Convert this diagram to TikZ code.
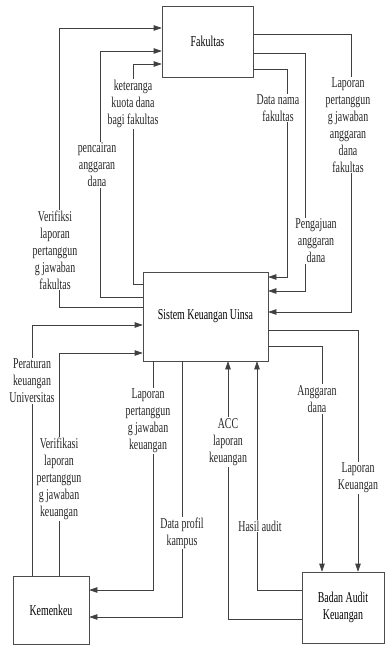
\documentclass[tikz,border=0pt]{standalone}
\usepackage{fontspec}
\setmainfont{Liberation Serif}[FakeStretch=0.66]
\usetikzlibrary{arrows.meta}

\tikzset{
  entitas/.style={draw=black!70, line width=0.6pt, align=center, inner sep=2pt},
  flow/.style={draw=black!75, line width=0.6pt, -{Triangle[length=8pt,width=5.5pt]}},
  keterangan/.style={fill=white, align=center, inner sep=1pt, text=black!85}
}

\begin{document}
\begin{tikzpicture}[x=1pt, y=-1pt, font=\fontsize{15}{17}\selectfont]
	\useasboundingbox (0,0) rectangle (385,645);

	% entitas
	\node[entitas, minimum width=91pt, minimum height=71pt] (fak) at (207.5,41.5) {Fakultas};
	\node[entitas, minimum width=125pt, minimum height=89pt] (sis) at (205.5,316.5) {Sistem Keuangan Uinsa};
	\node[entitas, minimum width=76pt, minimum height=68pt] (kem) at (51,610) {Kemenkeu};
	\node[entitas, minimum width=82pt, minimum height=71pt] (bad) at (343,607.5) {Badan Audit\\Keuangan};

	% sistem ke fakultas
	\draw[flow] (sis.west |- 0,307) -| (59,28) -- (fak.west |- 0,28);
	\draw[flow] (sis.west |- 0,297) -| (100,51) -- (fak.west |- 0,51);
	\draw[flow] (sis.west |- 0,284) -| (133,64) -- (fak.west |- 0,64);

	% fakultas ke sistem
	\draw[flow] (fak.east |- 0,34) -| (351,312) -- (sis.east |- 0,312);
	\draw[flow] (fak.east |- 0,53) -| (305,291) -- (sis.east |- 0,291);
	\draw[flow] (fak.east |- 0,69) -| (287,277) -- (sis.east |- 0,277);

	% kemenkeu
	\draw[flow] (kem.north -| 32,0) |- (sis.west |- 0,325);
	\draw[flow] (kem.north -| 59,0) |- (sis.west |- 0,353);
	\draw[flow] (sis.south -| 153,0) |- (kem.east |- 0,590);
	\draw[flow] (sis.south -| 182,0) |- (kem.east |- 0,617);

	% badan audit
	\draw[flow] (bad.west |- 0,619) -| (sis.south -| 228,0);
	\draw[flow] (bad.west |- 0,590) -| (sis.south -| 257,0);
	\draw[flow] (sis.east |- 0,346) -| (bad.north -| 322,0);
	\draw[flow] (sis.east |- 0,330) -| (bad.north -| 358,0);

	% keterangan aliran
	\node[keterangan] (l1) at (55,250) {Verifiksi\\laporan\\pertanggun\\g jawaban\\fakultas};
	\node[keterangan] (l2) at (97,165) {pencairan\\anggaran\\dana};
	\node[keterangan] (l3) at (133,104) {keteranga\\kuota dana\\bagi fakultas};
	\node[keterangan] (l4) at (348,125) {Laporan\\pertanggun\\g jawaban\\anggaran\\dana\\fakultas};
	\node[keterangan] (l5) at (316,241) {Pengajuan\\anggaran\\dana};
	\node[keterangan] (l6) at (278,108) {Data nama\\fakultas};
	\node[keterangan] (l7) at (32,381) {Peraturan\\keuangan\\Universitas};
	\node[keterangan] (l8) at (59,479) {Verifikasi\\laporan\\pertanggun\\g jawaban\\keuangan};
	\node[keterangan] (l9) at (148,421) {Laporan\\pertanggun\\g jawaban\\keuangan};
	\node[keterangan] (l10) at (182,533) {Data profil\\kampus};
	\node[keterangan] (l11) at (228,442) {ACC\\laporan\\keuangan};
	\node[keterangan] (l12) at (260,526) {Hasil audit};
	\node[keterangan] (l13) at (317,399) {Anggaran\\dana};
	\node[keterangan] (l14) at (358,478) {Laporan\\Keuangan};
\end{tikzpicture}
\end{document}
